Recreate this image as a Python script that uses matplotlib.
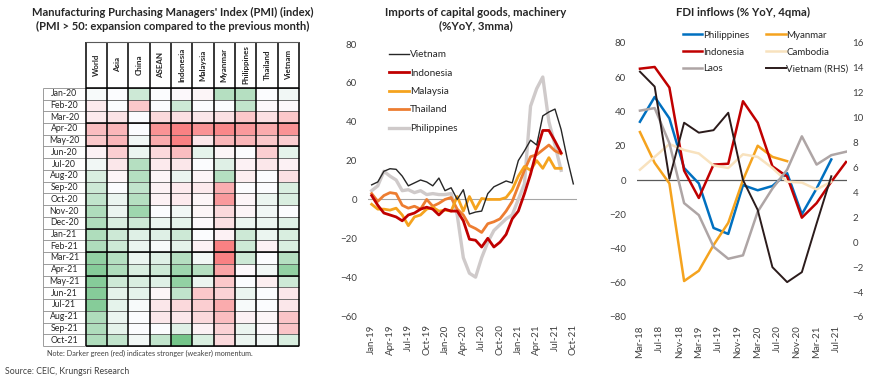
import numpy as np
import pandas as pd
import matplotlib
matplotlib.use('Agg')
from matplotlib import pyplot as plt
from matplotlib.colors import LinearSegmentedColormap, TwoSlopeNorm

plt.rcParams['font.family'] = ['Lato', 'DejaVu Sans']

# --- PMI momentum heatmap (score: <0 red / weaker, >0 green / stronger)
pmi_countries = ['World', 'Asia', 'China', 'ASEAN', 'Indonesia', 'Malaysia',
                 'Myanmar', 'Philippines', 'Thailand', 'Vietnam']
pmi_months = ['Jan-20', 'Feb-20', 'Mar-20', 'Apr-20', 'May-20', 'Jun-20', 'Jul-20',
              'Aug-20', 'Sep-20', 'Oct-20', 'Nov-20', 'Dec-20', 'Jan-21', 'Feb-21',
              'Mar-21', 'Apr-21', 'May-21', 'Jun-21', 'Jul-21', 'Aug-21', 'Sep-21', 'Oct-21']
pmi_score = [
    [0.1, 0.0, 0.8, 0.0, -0.1, -0.2, 1.2, 1.2, 0.0, 0.2],
    [-0.5, 0.0, -1.5, 0.0, 0.8, 0.0, 0.0, 1.0, -0.1, -0.1],
    [-0.5, -0.7, 0.0, -1.0, -0.8, -0.6, -0.8, -1.5, -0.8, -1.5],
    [-1.8, -2.0, 0.0, -3.0, -3.5, -3.0, -3.3, -2.8, -2.3, -3.0],
    [-1.5, -2.0, 0.2, -2.3, -3.5, -0.6, -2.0, -2.0, -1.5, -1.3],
    [-0.3, -1.3, 0.3, -1.0, -1.8, 0.4, -0.2, 0.0, -1.3, 0.4],
    [0.2, -0.6, 1.2, -0.5, -0.6, 0.0, 0.5, -0.3, -0.6, -0.3],
    [0.6, -0.2, 1.2, -0.2, 0.3, -0.2, 1.2, -0.4, 0.0, -0.8],
    [0.8, 0.0, 1.0, -0.3, -0.5, -0.5, -2.2, 0.0, 0.0, 0.6],
    [1.0, 0.3, 1.2, -0.3, -0.5, -0.2, -2.8, -0.2, 0.3, 0.6],
    [1.3, 0.3, 1.6, 0.0, 0.2, -0.2, -1.0, -0.2, 0.2, 0.0],
    [1.3, 0.6, 0.8, 0.3, 0.4, -0.1, -0.8, 0.3, 0.3, 0.5],
    [1.3, 0.8, 0.5, 0.5, 0.8, 0.0, -0.3, 0.8, 0.3, 0.6],
    [1.3, 0.8, 0.3, 0.1, 0.4, -0.3, -3.5, 0.8, -0.3, 0.6],
    [1.8, 1.2, 0.3, 0.5, 1.2, 0.2, -3.5, 0.8, 0.0, 1.2],
    [2.0, 1.3, 0.6, 0.8, 1.6, 1.2, -2.5, -0.1, 0.2, 1.8],
    [2.0, 0.8, 0.6, 0.5, 1.8, 0.3, -1.5, 0.0, -0.4, 0.8],
    [2.0, 0.4, 0.4, -0.2, 1.0, -1.5, -1.2, 0.3, 0.0, -0.6],
    [2.0, 0.4, 0.1, -0.6, -1.0, -1.3, -2.3, 0.1, 0.0, -0.6],
    [1.3, 0.3, 0.0, -0.6, -0.6, -1.0, -1.8, -0.3, -0.2, -1.6],
    [1.3, 0.4, 0.0, 0.0, 0.5, -0.3, -1.2, 0.3, -0.1, -1.6],
    [1.3, 1.0, 0.2, 1.0, 2.3, 0.6, -1.0, 0.3, 0.2, 0.6],
]
thick_rows = [0, 3, 5, 12, 14, 16, 22]

# --- Imports of capital goods (%YoY, 3mma), Jan-19 .. Oct-21
imp_labels = ['Jan-19', 'Apr-19', 'Jul-19', 'Oct-19', 'Jan-20', 'Apr-20', 'Jul-20',
              'Oct-20', 'Jan-21', 'Apr-21', 'Jul-21', 'Oct-21']
imp_vietnam = [7.5, 9, 14.5, 15.8, 15.5, 12, 7, 8.5, 10, 9, 7, 11, 4.5, 6, 0, 5, -7.5,
               -6.5, -6, 3, 6.5, 8, 9.5, 8.5, 20, 25, 30.5, 28, 43, 45, 46.5, 36, 21, 8]
imp_indonesia = [2, -3, -7, -8, -9, -11, -8, -7, -5, -4, -5, -8, -5, -6, -6, -11, -20.5,
                 -21, -24.5, -20, -24.5, -22, -18, -10, -6, 3, 13, 25, 35.5, 35.5, 30, 24]
imp_malaysia = [-2.5, -5, -5, -5.5, -4.5, -8, -13.5, -9, -8, -5, -4, -6, -5.5, -6, 1.5, -6,
                1.5, -5, 0.5, 0, 0, 0, 1, 5, 12, 17, 15, 20, 16, 21.5, 16, 16]
imp_thailand = [3, -1, 2, 3.5, 3, -3, -4.5, -3.5, -5, 0, -3.5, -2, 0, 1, -5, -8, -13.5,
                -15, -17, -12.5, -11.5, -10, -6, -1, 7, 15, 22, 23, 25.5, 28, 25, 23.5]
imp_philippines = [4.5, 7, 14.5, 12, 10, 4.5, 5, 3.5, 4.5, 2.5, 3, 2.5, 2.5, 3, -8, -30,
                   -38, -40, -30, -22, -16, -13, -10, -8, 0, 8, 48, 57, 63, 40, 28, 15]

# --- FDI inflows (%YoY, 4qma), quarterly Mar-18 .. Sep-21
fdi_quarters = ['Mar-18', 'Jun-18', 'Sep-18', 'Dec-18', 'Mar-19', 'Jun-19', 'Sep-19',
                'Dec-19', 'Mar-20', 'Jun-20', 'Sep-20', 'Dec-20', 'Mar-21', 'Jun-21', 'Sep-21']
fdi_ticks = ['Mar-18', 'Jul-18', 'Nov-18', 'Mar-19', 'Jul-19', 'Nov-19', 'Mar-20',
             'Jul-20', 'Nov-20', 'Mar-21', 'Jul-21']
fdi_philippines = [34, 48.5, 36, 7, -2, -28, -31.5, -3, -6, -3.5, 4, -20, -5, 12]
fdi_myanmar = [28, 10, -2, -59, -53, -38, -25, 0, 20, 13.5, 11]
fdi_indonesia = [65, 66, 54, 5.5, -10.5, 9, 9.5, 46, 33.5, 8, 2, -22, -13.5, -1, 10.5]
fdi_cambodia = [6, 13.5, 21, 17.5, 15.5, 8.5, 7, 15, 13.5, 7, -1, -1.5, -5.5, -1]
fdi_laos = [40.5, 42, 21.5, -13.5, -20.5, -39, -46, -44, -18.5, -5, 6, 25.5, 9, 14.5, 16.5]
fdi_vietnam_rhs = [13.7, 12.5, 5.1, 9.6, 8.8, 9.0, 10.4, 5.0, 2.6, -2.0, -3.2, -2.4, 1.5, 5.3]

W, H = 870, 381
fig = plt.figure(figsize=(W / 100, H / 100), dpi=100)
fig.patch.set_facecolor('white')
txt = '#262626'

# ================= panel 1: heatmap =================
fig.text(173 / W, 1 - 12 / H, "Manufacturing Purchasing Managers' Index (PMI) (index)",
         ha='center', va='center', fontsize=8.0, fontweight='bold', color=txt)
fig.text(173 / W, 1 - 26 / H, "(PMI > 50: expansion compared to the previous month)",
         ha='center', va='center', fontsize=8.0, fontweight='bold', color=txt)

hdr = 3.9
ax1 = fig.add_axes([43 / W, 1 - 346 / H, 256 / W, 304 / H])
cmap = LinearSegmentedColormap.from_list('pmi', ['#F8696B', '#FCFCFF', '#63BE7B'])
norm = TwoSlopeNorm(vmin=-4.2, vcenter=0, vmax=2.6)
ax1.pcolormesh(np.arange(len(pmi_countries) + 1), np.arange(len(pmi_months) + 1),
               np.array(pmi_score), cmap=cmap, norm=norm)
ax1.set_xlim(-2, 10)
ax1.set_ylim(22, -hdr)
ax1.axis('off')

nr = len(pmi_months)
ax1.hlines(range(nr + 1), -2, 0, color='#8c8c8c', lw=0.6, clip_on=False)
ax1.vlines(-2, 0, nr, color='#8c8c8c', lw=0.6, clip_on=False)
ax1.hlines(range(nr + 1), 0, 10, color='#595959', lw=0.6, clip_on=False)
ax1.hlines(thick_rows, 0, 10, color='black', lw=1.1, clip_on=False)
ax1.vlines(range(11), -hdr, nr, color='black', lw=1.1, clip_on=False)
ax1.hlines(-hdr, 0, 10, color='#595959', lw=0.8, clip_on=False)
for i, m in enumerate(pmi_months):
    ax1.text(-1, i + 0.5, m, ha='center', va='center', fontsize=6.3, color=txt)
for j, c in enumerate(pmi_countries):
    ax1.text(j + 0.5, -hdr / 2, c, rotation=90, ha='center', va='center',
             fontsize=5.8, fontweight='bold', color=txt)

fig.text(47 / W, 1 - 353 / H, 'Note: Darker green (red) indicates stronger (weaker) momentum.',
         ha='left', va='center', fontsize=5.2, color='#404040')
fig.text(5 / W, 1 - 372 / H, 'Source: CEIC, Krungsri Research',
         ha='left', va='center', fontsize=6.3, color='#404040')

# ================= panel 2: imports =================
fig.text(476 / W, 1 - 12 / H, 'Imports of capital goods, machinery',
         ha='center', va='center', fontsize=8.2, fontweight='bold', color=txt)
fig.text(476 / W, 1 - 26 / H, '(%YoY, 3mma)',
         ha='center', va='center', fontsize=8.2, fontweight='bold', color=txt)

ax2 = fig.add_axes([368 / W, 1 - 316 / H, 209 / W, 272 / H])
ax2.axhline(0, color='#a6a6a6', lw=0.8)
series2 = [('Vietnam', imp_vietnam, '#262626', 1.0),
           ('Indonesia', imp_indonesia, '#C00000', 2.0),
           ('Malaysia', imp_malaysia, '#F5A31E', 2.0),
           ('Thailand', imp_thailand, '#ED7D31', 2.0),
           ('Philippines', imp_philippines, '#CFCACA', 2.4)]
for name, vals, col, lw in series2[::-1]:
    ax2.plot(np.arange(len(vals)), vals, color=col, lw=lw, label=name)
h, l = ax2.get_legend_handles_labels()
ax2.legend(h[::-1], l[::-1], loc='upper left', bbox_to_anchor=(385 / W, 1 - 46 / H),
           bbox_transform=fig.transFigure, frameon=False, fontsize=7.2,
           handlelength=2.0, handletextpad=0.1, labelspacing=0.95, borderaxespad=0,
           labelcolor=txt)
ax2.set_xlim(-0.6, 33.6)
ax2.set_ylim(-60, 80)
ax2.set_yticks(np.arange(-60, 81, 20))
ax2.set_xticks(np.arange(0, 34, 3))
ax2.set_xticklabels(imp_labels, rotation=90)
ax2.tick_params(length=0, labelsize=7, colors='#404040')
ax2.tick_params(axis='y', pad=8)
ax2.tick_params(axis='x', pad=6)
for s in ax2.spines.values():
    s.set_visible(False)

# ================= panel 3: FDI =================
fig.text(743 / W, 1 - 12 / H, 'FDI inflows (% YoY, 4qma)',
         ha='center', va='center', fontsize=8.2, fontweight='bold', color=txt)


def month_index(labels):
    d = pd.to_datetime(labels, format='%b-%y')
    return (d.year - 2018) * 12 + d.month - 3


qx = np.array(month_index(fdi_quarters))
ax3 = fig.add_axes([637 / W, 1 - 317 / H, 210 / W, 274 / H])
ax3r = ax3.twinx()
ax3.axhline(0, color='#595959', lw=0.9)
series3 = [('Philippines', fdi_philippines, '#0070C0', 1.8),
           ('Myanmar', fdi_myanmar, '#F5A31E', 1.8),
           ('Indonesia', fdi_indonesia, '#C00000', 1.8),
           ('Cambodia', fdi_cambodia, '#F8E2BE', 1.8),
           ('Laos', fdi_laos, '#AEA5A5', 1.8)]
handles = []
for name, vals, col, lw in series3:
    ln, = ax3.plot(qx[:len(vals)], vals, color=col, lw=lw, label=name)
    handles.append(ln)
vn, = ax3r.plot(qx[:len(fdi_vietnam_rhs)], fdi_vietnam_rhs, color='#2B1B1B', lw=1.4,
                label='Vietnam (RHS)')
handles.append(vn)
leg_order = [0, 2, 4, 1, 3, 5]
ax3r.legend([handles[i] for i in leg_order],
            [handles[i].get_label() for i in leg_order],
            ncol=2, loc='upper left', bbox_to_anchor=(679 / W, 1 - 27 / H),
            bbox_transform=fig.transFigure, frameon=False, fontsize=7.0,
            handlelength=2.0, handletextpad=0.1, labelspacing=0.8, columnspacing=1.7,
            borderaxespad=0, labelcolor=txt)
ax3.set_xlim(-0.6, 42.2)
ax3.set_ylim(-80, 80)
ax3r.set_ylim(-6, 16)
ax3.set_yticks(np.arange(-80, 81, 20))
ax3r.set_yticks(np.arange(-6, 17, 2))
ax3.set_xticks(month_index(fdi_ticks))
ax3.set_xticklabels(fdi_ticks, rotation=90)
for a in (ax3, ax3r):
    a.tick_params(length=0, labelsize=7, colors='#404040')
    for s in a.spines.values():
        s.set_visible(False)
ax3.tick_params(axis='y', pad=8)
ax3r.tick_params(axis='y', pad=4)
ax3.tick_params(axis='x', pad=6)

fig.savefig('out.png', dpi=100, facecolor='white')
